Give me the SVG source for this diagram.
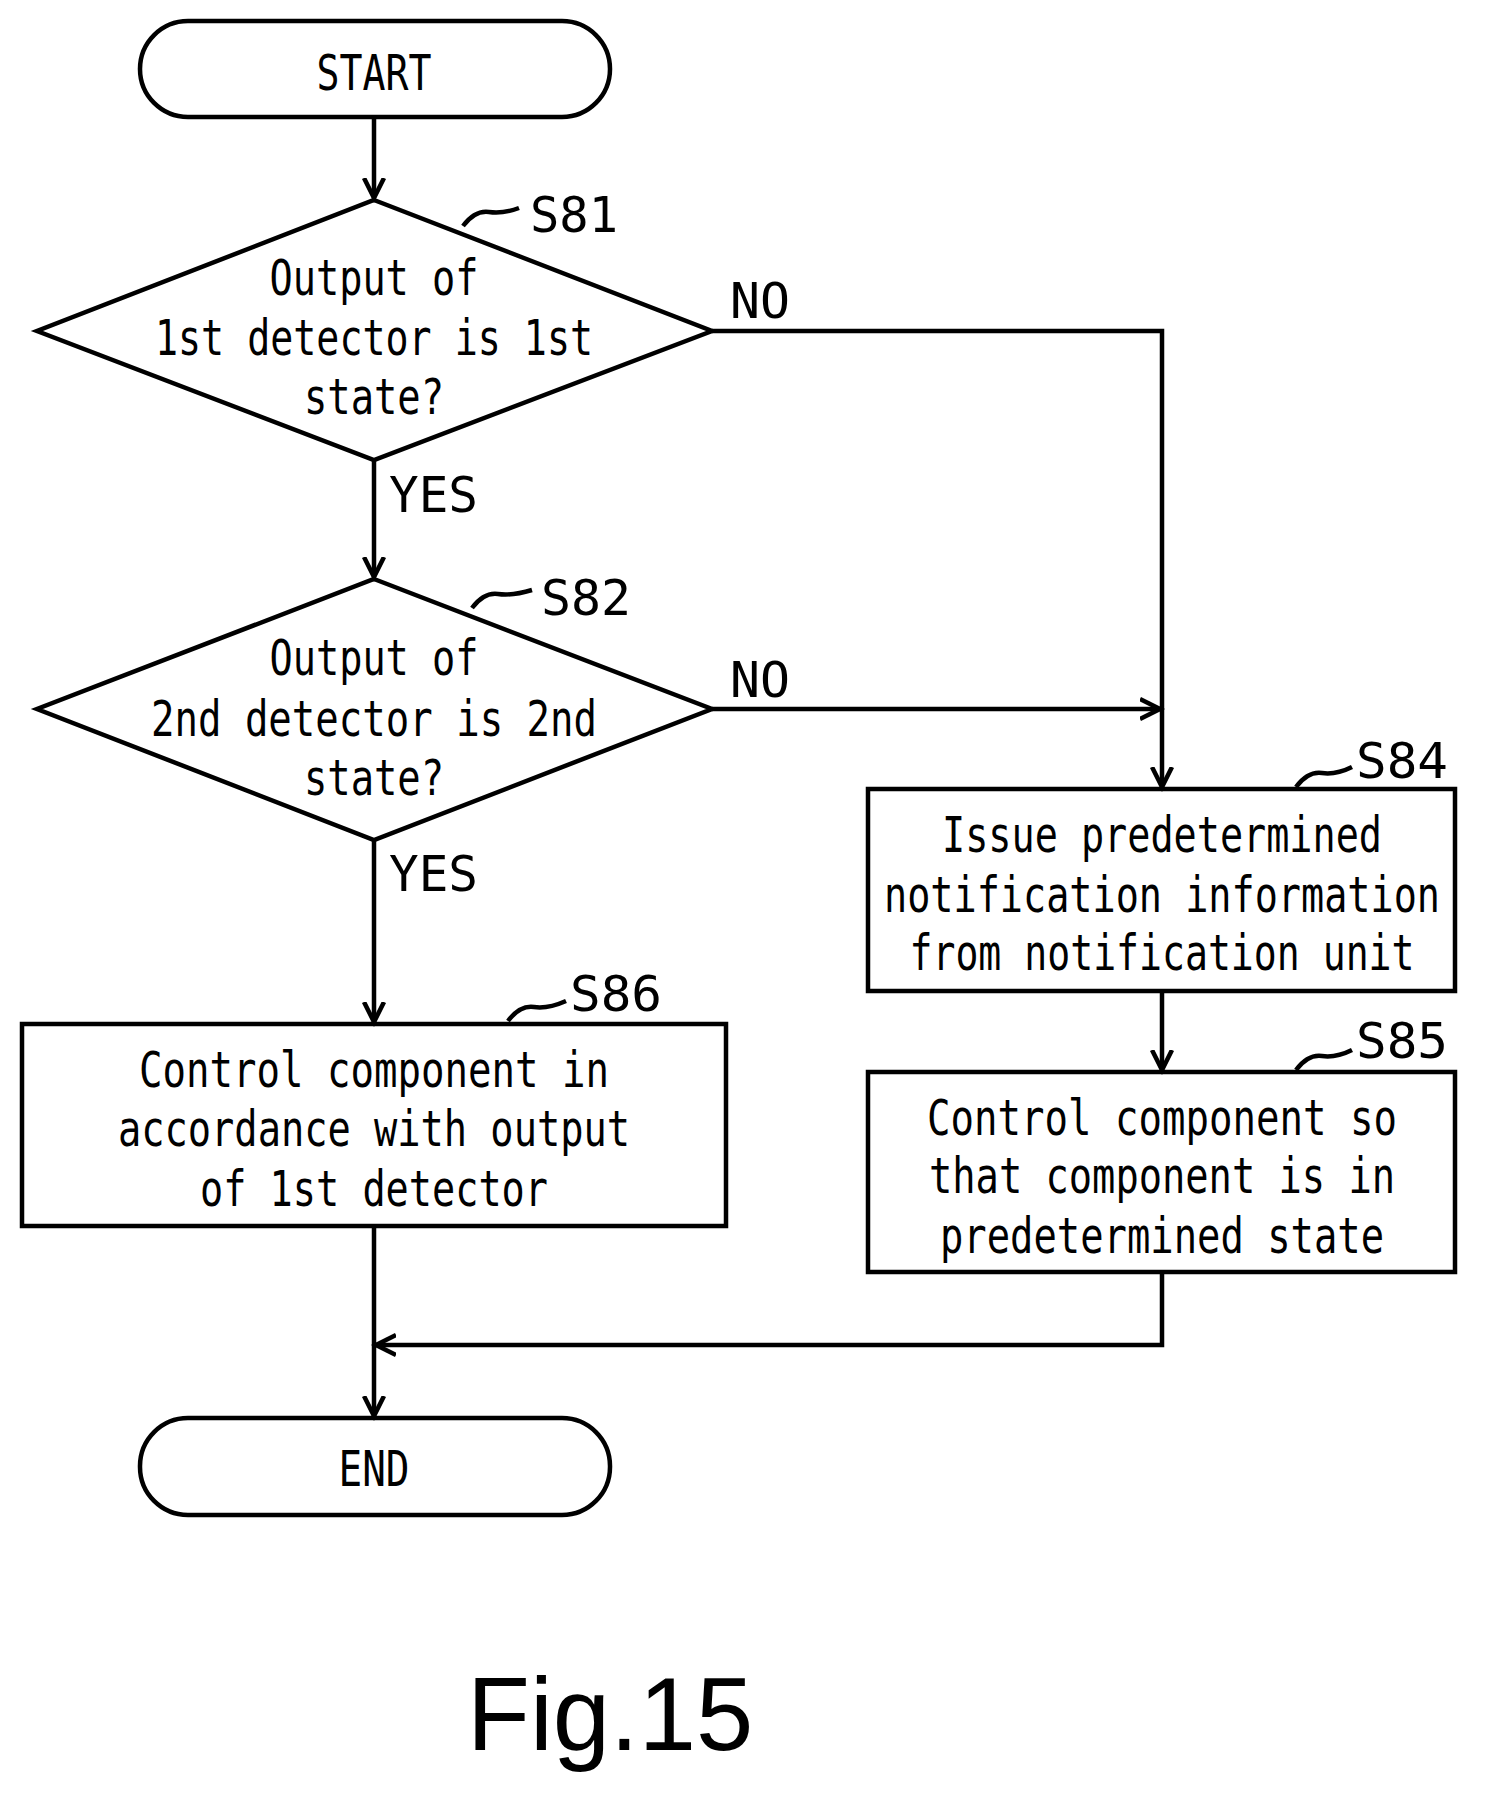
<svg xmlns="http://www.w3.org/2000/svg" width="1487" height="1805" viewBox="0 0 1487 1805">
<style>
.s{fill:none;stroke:#000;stroke-width:4.5}
.t{font-family:"DejaVu Sans Mono",monospace;font-size:50px;text-anchor:middle}
.l{font-family:"DejaVu Sans Mono",monospace;font-size:50px}
</style>
<defs>
<marker id="a" markerWidth="30" markerHeight="30" refX="20" refY="10" orient="auto" markerUnits="userSpaceOnUse" viewBox="0 0 30 20">
<polyline points="0,0 20,10 0,20" fill="none" stroke="#000" stroke-width="4.5"/>
</marker>
</defs>
<rect width="1487" height="1805" fill="#fff"/>
<g id="start"><rect class="s" x="140" y="21" width="470" height="96" rx="48"/><text class="t" x="374" y="90" textLength="115" lengthAdjust="spacingAndGlyphs">START</text></g>
<g id="s81"><polygon class="s" points="374,200 712,331 374,460 37,331"/>
<text class="t" x="374" y="295" textLength="209" lengthAdjust="spacingAndGlyphs">Output of</text>
<text class="t" x="374" y="355" textLength="438" lengthAdjust="spacingAndGlyphs">1st detector is 1st</text>
<text class="t" x="374" y="414" textLength="140" lengthAdjust="spacingAndGlyphs">state?</text>
<path class="s" d="M463,226 q12,-16 26,-14 t30,-4"/>
<text class="l" x="530" y="232" textLength="88" lengthAdjust="spacingAndGlyphs">S81</text></g>
<g id="s82"><polygon class="s" points="374,579 712,709 374,840 37,709"/>
<text class="t" x="374" y="675" textLength="209" lengthAdjust="spacingAndGlyphs">Output of</text>
<text class="t" x="374" y="736" textLength="446" lengthAdjust="spacingAndGlyphs">2nd detector is 2nd</text>
<text class="t" x="374" y="795" textLength="140" lengthAdjust="spacingAndGlyphs">state?</text>
<path class="s" d="M472,608 q12,-16 26,-14 t34,-4"/>
<text class="l" x="541" y="615" textLength="90" lengthAdjust="spacingAndGlyphs">S82</text></g>
<g id="s84"><rect class="s" x="868" y="789" width="587" height="202"/>
<text class="t" x="1162" y="852" textLength="440" lengthAdjust="spacingAndGlyphs">Issue predetermined</text>
<text class="t" x="1162" y="912" textLength="556" lengthAdjust="spacingAndGlyphs">notification information</text>
<text class="t" x="1162" y="970" textLength="505" lengthAdjust="spacingAndGlyphs">from notification unit</text>
<path class="s" d="M1296,787 q12,-16 26,-14 t30,-6"/>
<text class="l" x="1356" y="778" textLength="92" lengthAdjust="spacingAndGlyphs">S84</text></g>
<g id="s85"><rect class="s" x="868" y="1072" width="587" height="200"/>
<text class="t" x="1162" y="1135" textLength="470" lengthAdjust="spacingAndGlyphs">Control component so</text>
<text class="t" x="1162" y="1193" textLength="466" lengthAdjust="spacingAndGlyphs">that component is in</text>
<text class="t" x="1162" y="1253" textLength="444" lengthAdjust="spacingAndGlyphs">predetermined state</text>
<path class="s" d="M1296,1070 q12,-16 26,-14 t30,-6"/>
<text class="l" x="1356" y="1058" textLength="92" lengthAdjust="spacingAndGlyphs">S85</text></g>
<g id="s86"><rect class="s" x="22" y="1024" width="704" height="202"/>
<text class="t" x="374" y="1087" textLength="470" lengthAdjust="spacingAndGlyphs">Control component in</text>
<text class="t" x="374" y="1146" textLength="512" lengthAdjust="spacingAndGlyphs">accordance with output</text>
<text class="t" x="374" y="1206" textLength="348" lengthAdjust="spacingAndGlyphs">of 1st detector</text>
<path class="s" d="M508,1021 q12,-16 26,-14 t32,-6"/>
<text class="l" x="570" y="1011" textLength="92" lengthAdjust="spacingAndGlyphs">S86</text></g>
<g id="end"><rect class="s" x="140" y="1418" width="470" height="97" rx="48"/><text class="t" x="374" y="1486" textLength="71" lengthAdjust="spacingAndGlyphs">END</text></g>
<g id="connectors">
<line class="s" x1="374" y1="117" x2="374" y2="198" marker-end="url(#a)"/>
<line class="s" x1="374" y1="460" x2="374" y2="577" marker-end="url(#a)"/>
<line class="s" x1="374" y1="840" x2="374" y2="1022" marker-end="url(#a)"/>
<polyline class="s" points="712,331 1162,331 1162,787" marker-end="url(#a)"/>
<line class="s" x1="712" y1="709" x2="1160" y2="709" marker-end="url(#a)"/>
<line class="s" x1="1162" y1="991" x2="1162" y2="1070" marker-end="url(#a)"/>
<polyline class="s" points="1162,1272 1162,1345 376,1345" marker-end="url(#a)"/>
<line class="s" x1="374" y1="1226" x2="374" y2="1416" marker-end="url(#a)"/>
<text class="l" x="730" y="318" textLength="60" lengthAdjust="spacingAndGlyphs">NO</text>
<text class="l" x="730" y="697" textLength="60" lengthAdjust="spacingAndGlyphs">NO</text>
<text class="l" x="389" y="512" textLength="89" lengthAdjust="spacingAndGlyphs">YES</text>
<text class="l" x="389" y="891" textLength="89" lengthAdjust="spacingAndGlyphs">YES</text>
</g>
<text x="467" y="1750" font-family="Liberation Sans,Arial,sans-serif" font-size="103">Fig.15</text>
</svg>
